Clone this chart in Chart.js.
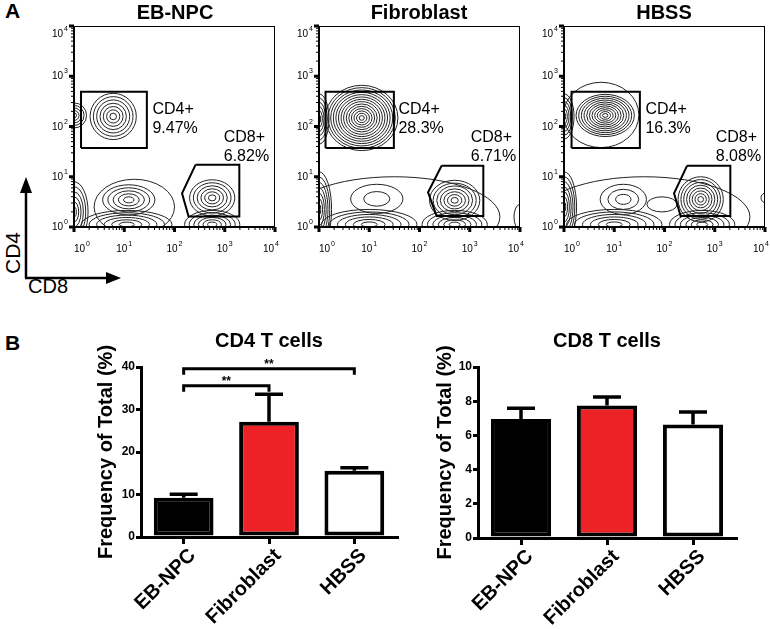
<!DOCTYPE html>
<html>
<head>
<meta charset="utf-8">
<script src="https://cdn.jsdelivr.net/npm/chart.js@4.4.0/dist/chart.umd.min.js"></script>
<style>
  body { margin: 0; background: #fff; }
  #fig { position: relative; width: 770px; height: 629px; overflow: hidden; color: #000;
         font-family: "Liberation Sans", Arial, sans-serif; }
  #fig canvas, #fig svg, .txt { position: absolute; }
  .txt { white-space: nowrap; line-height: 24px; }
  .ttl { font-weight: bold; font-size: 20px; width: 200px; text-align: center; top: 0; }
</style>
</head>
<body>
<div id="fig">
  <div class="txt" style="left:5px;top:-1px;font-weight:bold;font-size:21px">A</div>
  <div class="txt" style="left:5px;top:331px;font-weight:bold;font-size:21px">B</div>
  <div class="txt" style="left:-17px;top:241px;width:60px;text-align:center;font-size:21px;transform:rotate(-90deg)">CD4</div>
  <div class="txt" style="left:28px;top:274px;font-size:20px">CD8</div>
  <svg style="left:0;top:170px" width="140" height="130">
    <line x1="26" y1="108" x2="26" y2="20" stroke="#000" stroke-width="2.5"/>
    <polygon points="26,7 20,23 32,23" fill="#000"/>
    <line x1="25" y1="108" x2="108" y2="108" stroke="#000" stroke-width="2.5"/>
    <polygon points="121,108 106,102 106,114" fill="#000"/>
  </svg>
  <canvas id="flow0" width="250" height="262" style="left:30px;top:0"></canvas>
  <canvas id="flow1" width="250" height="262" style="left:275px;top:0"></canvas>
  <canvas id="flow2" width="250" height="262" style="left:520px;top:0"></canvas>
  <canvas id="cd4Chart" width="345" height="309" style="left:60px;top:320px"></canvas>
  <canvas id="cd8Chart" width="345" height="309" style="left:400px;top:320px"></canvas>
</div>
<script>
const FONT = '"Liberation Sans", Arial, sans-serif';
Chart.defaults.font.family = FONT;
Chart.defaults.color = '#000';

// groups / samples
const groups = ['EB-NPC', 'Fibroblast', 'HBSS'];
const titleCenters = [175, 419, 664];

// panel A: gate percentages
const cd4Pct = ['9.47%', '28.3%', '16.3%'];
const cd8Pct = ['6.82%', '6.71%', '8.08%'];

// gates in log10 decades: CD4 box [x0, x1, y0, y1], CD8 polygon
const cd4Gates = [[0.14, 1.45, 1.57, 2.69], [0.13, 1.49, 1.57, 2.69], [0.15, 1.51, 1.57, 2.69]];
const cd8Gates = [
  [[2.42, 1.24], [3.29, 1.24], [3.29, 0.21], [2.28, 0.21], [2.15, 0.67]],
  [[2.44, 1.22], [3.27, 1.22], [3.27, 0.22], [2.34, 0.22], [2.17, 0.69]],
  [[2.45, 1.22], [3.31, 1.22], [3.31, 0.22], [2.32, 0.22], [2.19, 0.67]]
];
const cd4LabelX = [1.56, 1.58, 1.62];
const cd8LabelX = [2.98, 3.02, 3.02];

// contour populations: [cx, cy, rx, ry, levels] in decades
const popsEB = [
  [0.78, 2.2, 0.46, 0.46, 7],
  [0.0, 2.22, 0.25, 0.25, 5],
  [1.09, 0.54, 0.52, 0.3, 5],
  [1.2, 0.4, 0.8, 0.55, 1],
  [2.75, 0.58, 0.45, 0.36, 6],
  [1.05, 0.05, 0.9, 0.28, 6],
  [2.75, 0.05, 0.55, 0.28, 6],
  [0.0, 0.3, 0.28, 0.6, 6]
];
const popsFib = [
  [0.85, 2.17, 0.72, 0.65, 14],
  [0.0, 2.15, 0.2, 0.5, 6],
  [1.15, 0.56, 0.52, 0.29, 2],
  [1.5, 0.2, 2.1, 0.8, 1],
  [2.7, 0.53, 0.5, 0.4, 7],
  [1.0, 0.05, 0.95, 0.3, 6],
  [2.7, 0.05, 0.65, 0.28, 6],
  [0.0, 0.35, 0.25, 0.75, 7],
  [4.0, 0.2, 0.12, 0.25, 1]
];
const popsHBSS = [
  [0.82, 2.22, 0.58, 0.42, 11],
  [0.74, 2.23, 0.75, 0.65, 1],
  [0.0, 2.2, 0.2, 0.45, 6],
  [1.18, 0.55, 0.46, 0.3, 3],
  [1.6, 0.2, 2.1, 0.8, 1],
  [1.95, 0.45, 0.3, 0.15, 1],
  [2.72, 0.55, 0.45, 0.45, 8],
  [1.0, 0.05, 0.95, 0.3, 6],
  [2.75, 0.05, 0.65, 0.28, 6],
  [0.0, 0.4, 0.25, 0.7, 7],
  [4.02, 0.58, 0.1, 0.1, 1]
];
const flowPops = [popsEB, popsFib, popsHBSS];
const decades = [0, 1, 2, 3, 4];

// panel B: bar values (mean, SEM)
const barColors = ['#000000', '#ec2227', '#ffffff'];
const cd4Mean = [9.25, 27.1, 15.6];
const cd4Sem = [0.8, 6.5, 0.7];
const cd8Mean = [6.96, 7.75, 6.64];
const cd8Sem = [0.63, 0.5, 0.73];
const cd4Sig = [[0, 1, 35.6, '**'], [0, 2, 39.6, '**']];

// titles for panel A
groups.forEach((g, i) => {
  const d = document.createElement('div');
  d.className = 'txt ttl';
  d.style.left = (titleCenters[i] - 100) + 'px';
  d.textContent = g;
  document.getElementById('fig').appendChild(d);
});

function drawPow(ctx, exp, x, y, align) {
  ctx.font = '10px ' + FONT;
  const w1 = ctx.measureText('10').width;
  ctx.font = '7px ' + FONT;
  const w2 = ctx.measureText(String(exp)).width;
  const x0 = align === 'right' ? x - w1 - w2 - 1 : x - (w1 + w2 + 1) / 2;
  ctx.textAlign = 'left';
  ctx.textBaseline = 'alphabetic';
  ctx.font = '10px ' + FONT;
  ctx.fillText('10', x0, y);
  ctx.font = '7px ' + FONT;
  ctx.fillText(String(exp), x0 + w1 + 1, y - 6);
}

function flowPlugin(i) {
  return {
    id: 'flow',
    beforeDatasetsDraw(chart) {
      const { ctx, chartArea: a, scales: { x, y } } = chart;
      ctx.save();
      ctx.beginPath();
      ctx.rect(a.left, a.top, a.right - a.left, a.bottom - a.top);
      ctx.clip();
      ctx.strokeStyle = '#222';
      ctx.lineWidth = 1;
      flowPops[i].forEach(([cx, cy, rx, ry, n]) => {
        const px = x.getPixelForValue(cx), py = y.getPixelForValue(cy);
        const sx = x.getPixelForValue(cx + rx) - px;
        const sy = py - y.getPixelForValue(cy + ry);
        for (let k = 1; k <= n; k++) {
          const f = k / n;
          ctx.beginPath();
          ctx.ellipse(px, py, sx * f, sy * f, 0, 0, Math.PI * 2);
          ctx.stroke();
        }
      });
      ctx.restore();
    },
    afterDraw(chart) {
      const { ctx, chartArea: a, scales: { x, y } } = chart;
      ctx.save();
      ctx.strokeStyle = '#000';
      ctx.fillStyle = '#000';
      ctx.lineWidth = 1;
      ctx.strokeRect(a.left + 0.5, a.top + 0.5, a.right - a.left - 1, a.bottom - a.top - 1);
      ctx.lineWidth = 2;
      ctx.beginPath();
      ctx.moveTo(a.left, a.top); ctx.lineTo(a.left, a.bottom); ctx.lineTo(a.right, a.bottom);
      ctx.stroke();
      // minor ticks
      ctx.lineWidth = 1;
      for (let d = 0; d < 4; d++) {
        for (let m = 2; m <= 9; m++) {
          const v = d + Math.log10(m);
          const px = x.getPixelForValue(v), py = y.getPixelForValue(v);
          ctx.beginPath();
          ctx.moveTo(px, a.bottom); ctx.lineTo(px, a.bottom + 3);
          ctx.moveTo(a.left - 3, py); ctx.lineTo(a.left, py);
          ctx.stroke();
        }
      }
      decades.forEach(d => {
        const px = x.getPixelForValue(d), py = y.getPixelForValue(d);
        ctx.fillRect(px - 1.5, a.bottom, 3, 5);
        ctx.fillRect(a.left - 5, py - 1.5, 5, 3);
        drawPow(ctx, d, a.left - 6, py + 3 + (d === 4 ? 8 : 0), 'right');
        drawPow(ctx, d, px + (d === 0 ? 8 : d === 4 ? -4 : 0), a.bottom + 25, 'center');
      });
      // gate labels
      ctx.font = '16px ' + FONT;
      ctx.textAlign = 'left';
      ctx.textBaseline = 'alphabetic';
      const l4x = x.getPixelForValue(cd4LabelX[i]), l4y = y.getPixelForValue(2.24);
      ctx.fillText('CD4+', l4x, l4y);
      ctx.fillText(cd4Pct[i], l4x, l4y + 19);
      const l8x = x.getPixelForValue(cd8LabelX[i]), l8y = y.getPixelForValue(1.7);
      ctx.fillText('CD8+', l8x, l8y);
      ctx.fillText(cd8Pct[i], l8x, l8y + 19);
      ctx.restore();
    }
  };
}

function flowChart(i) {
  const g4 = cd4Gates[i];
  const box = [[g4[0], g4[2]], [g4[1], g4[2]], [g4[1], g4[3]], [g4[0], g4[3]], [g4[0], g4[2]]];
  const poly = cd8Gates[i].concat([cd8Gates[i][0]]);
  new Chart(document.getElementById('flow' + i), {
    type: 'scatter',
    data: {
      datasets: [box, poly].map(pts => ({
        data: pts.map(p => ({ x: p[0], y: p[1] })),
        showLine: true, borderColor: '#000', borderWidth: 2, pointRadius: 0, tension: 0, fill: false
      }))
    },
    options: {
      responsive: false, animation: false, events: [],
      layout: { padding: { left: 44, top: 26, right: 5, bottom: 35 } },
      plugins: { legend: { display: false }, tooltip: { enabled: false } },
      scales: {
        x: { type: 'linear', min: 0, max: 4, display: false },
        y: { type: 'linear', min: 0, max: 4, display: false }
      }
    },
    plugins: [flowPlugin(i)]
  });
}
[0, 1, 2].forEach(flowChart);

function barExtras(title, means, sems, sig) {
  return {
    id: 'barExtras',
    afterDatasetsDraw(chart) {
      const { ctx, chartArea: a, scales: { y } } = chart;
      const meta = chart.getDatasetMeta(0);
      ctx.save();
      ctx.strokeStyle = '#000';
      ctx.fillStyle = '#000';
      ctx.lineWidth = 3.5;
      means.forEach((m, i) => {
        const bx = meta.data[i].x;
        const y0 = y.getPixelForValue(m), y1 = y.getPixelForValue(m + sems[i]);
        ctx.beginPath();
        ctx.moveTo(bx, y0); ctx.lineTo(bx, y1);
        ctx.moveTo(bx - 14, y1); ctx.lineTo(bx + 14, y1);
        ctx.stroke();
      });
      ctx.lineWidth = 3;
      sig.forEach(([i, j, lvl, txt]) => {
        const x0 = meta.data[i].x, x1 = meta.data[j].x, py = y.getPixelForValue(lvl);
        ctx.beginPath();
        ctx.moveTo(x0, py + 6); ctx.lineTo(x0, py); ctx.lineTo(x1, py); ctx.lineTo(x1, py + 6);
        ctx.stroke();
        ctx.font = 'bold 12px ' + FONT;
        ctx.textAlign = 'center';
        ctx.textBaseline = 'alphabetic';
        ctx.fillText(txt, (x0 + x1) / 2, py - 1);
      });
      ctx.font = 'bold 20px ' + FONT;
      ctx.textAlign = 'center';
      ctx.textBaseline = 'alphabetic';
      ctx.fillText(title, (a.left + a.right) / 2, a.top - 20);
      ctx.restore();
    }
  };
}

function barChart(id, title, means, sems, max, step, sig, yw, xh, pr, tp) {
  new Chart(document.getElementById(id), {
    type: 'bar',
    data: {
      labels: groups,
      datasets: [{
        data: means, backgroundColor: barColors, borderColor: '#000', borderWidth: 4,
        borderSkipped: false, barPercentage: 0.7, categoryPercentage: 1
      }]
    },
    options: {
      responsive: false, animation: false, events: [],
      layout: { padding: { top: 47, right: pr, left: 0, bottom: 0 } },
      plugins: { legend: { display: false }, tooltip: { enabled: false } },
      scales: {
        x: {
          grid: { offset: false, drawOnChartArea: false, color: '#000', lineWidth: 3, tickLength: 7 },
          border: { color: '#000', width: 3 },
          ticks: { color: '#000', font: { size: 20, weight: 'bold' }, minRotation: 45, maxRotation: 45,
                   autoSkip: false, padding: 0, labelOffset: 9 },
          afterFit: s => { s.height = xh; }
        },
        y: {
          min: 0, max: max,
          ticks: { stepSize: step, color: '#000', font: { size: 12, weight: 'bold' }, padding: 1 },
          grid: { drawOnChartArea: false, color: '#000', lineWidth: 3, tickLength: 5 },
          border: { color: '#000', width: 3 },
          title: { display: true, text: 'Frequency of Total (%)', color: '#000',
                   font: { size: 20, weight: 'bold' }, padding: { top: tp, bottom: 0 } },
          afterFit: s => { s.width = yw; }
        }
      }
    },
    plugins: [barExtras(title, means, sems, sig)]
  });
}

barChart('cd4Chart', 'CD4 T cells', cd4Mean, cd4Sem, 40, 10, cd4Sig, 81, 92, 8, 34);
barChart('cd8Chart', 'CD8 T cells', cd8Mean, cd8Sem, 10, 2, [], 78, 91, 9, 33);
</script>
</body>
</html>
